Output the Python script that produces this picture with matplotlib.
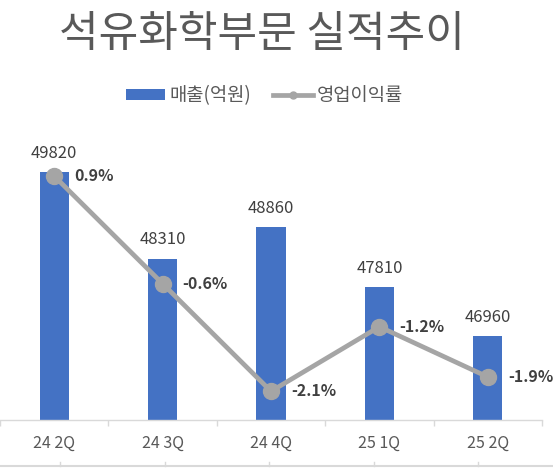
import numpy as np
import matplotlib
matplotlib.use('Agg')
import matplotlib.pyplot as plt
from matplotlib.lines import Line2D
from matplotlib.patches import Patch

plt.rcParams['font.family'] = ['Noto Sans CJK KR', 'DejaVu Sans']

quarters = ['24 2Q', '24 3Q', '24 4Q', '25 1Q', '25 2Q']
sales = [49820, 48310, 48860, 47810, 46960]
margin = [0.9, -0.6, -2.1, -1.2, -1.9]

blue = '#4472C4'
grey = '#A5A5A5'
x = np.arange(len(quarters))

fig = plt.figure(figsize=(5.53, 4.69), dpi=100)
ax = fig.add_axes([0, 49 / 469, 542 / 553, 287 / 469])

ax.bar(x, sales, width=0.27, color=blue, zorder=2)
ax.set_ylim(45500, 50500)
ax.set_xlim(-0.5, 4.5)
ax.set_yticks([])
for s in ['top', 'left', 'right']:
    ax.spines[s].set_visible(False)
ax.spines['bottom'].set_color('#D9D9D9')
ax.spines['bottom'].set_linewidth(1.0)
ax.set_xticks(x, quarters)
ax.set_xticks(np.arange(-0.5, 5, 1), minor=True)
ax.tick_params(axis='x', which='major', length=0, pad=10.5, labelsize=11.5, labelcolor='#595959')
ax.tick_params(axis='x', which='minor', length=4.5, width=1, color='#D9D9D9')

for i, v in enumerate(sales):
    ax.annotate(f'{v}', (i, v), xytext=(0, 13.5), textcoords='offset points',
                ha='center', va='center', fontsize=12, color='#404040')

ax2 = ax.twinx()
ax2.plot(x, margin, color=grey, lw=3.4, marker='o', ms=11.5, zorder=3)
ax2.set_ylim(-2.5, 1.5)
ax2.set_yticks([])
for s in ax2.spines.values():
    s.set_visible(False)

for i, m in enumerate(margin):
    ax2.annotate(f'{m}%', (i, m), xytext=(14.5, 0), textcoords='offset points',
                 ha='left', va='center', fontsize=11.5, fontweight='bold', color='#404040')

fig.text(0.473, 0.926, '석유화학부문 실적추이', ha='center', va='center',
         fontsize=31, color='#595959')

handles = [Patch(facecolor=blue, edgecolor='none', label='매출(억원)'),
           Line2D([], [], color=grey, lw=3.4, marker='o', ms=5, label='영업이익률')]
fig.legend(handles=handles, loc='center', bbox_to_anchor=(0.478, 0.797), ncol=2,
           frameon=False, fontsize=13.5, labelcolor='#595959', handlelength=2.1,
           handleheight=0.53, handletextpad=0.2, columnspacing=1.2, borderpad=0)

# light line at the bottom edge
yb = 3 / 469
fig.add_artist(Line2D([0, 1], [yb, yb], color='#D9D9D9', lw=1.5, transform=fig.transFigure))
for px in [60, 164.5, 269, 373.5, 478]:
    fig.add_artist(Line2D([px / 553, px / 553], [yb, yb + 4 / 469], color='#D9D9D9', lw=1,
                          transform=fig.transFigure))

fig.savefig('out.png', dpi=100)
